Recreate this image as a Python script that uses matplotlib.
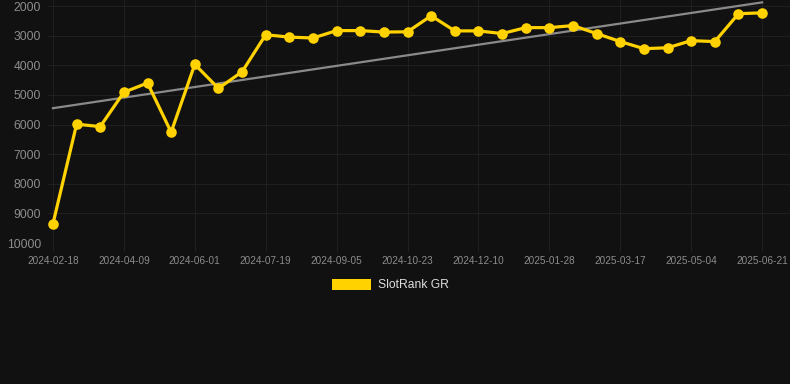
import numpy as np
import matplotlib
matplotlib.use('Agg')
import matplotlib.pyplot as plt
from matplotlib.patches import Patch

# rank values, one per sample (every ~16 days)
ranks = [9350, 5990, 6070, 4910, 4600, 6260, 3970, 4780, 4220, 2970,
         3050, 3080, 2830, 2830, 2880, 2870, 2330, 2840, 2840, 2930,
         2730, 2730, 2660, 2930, 3200, 3440, 3410, 3170, 3200, 2260, 2230]
tick_labels = ['2024-02-18', '2024-04-09', '2024-06-01', '2024-07-19',
               '2024-09-05', '2024-10-23', '2024-12-10', '2025-01-28',
               '2025-03-17', '2025-05-04', '2025-06-21']
y_ticks = [2000, 3000, 4000, 5000, 6000, 7000, 8000, 9000, 10000]
series_name = 'SlotRank GR'

plt.rcParams['font.family'] = ['Liberation Sans', 'DejaVu Sans']

bg = '#111111'
fig = plt.figure(figsize=(7.9, 3.84), dpi=100, facecolor=bg)
# axes box in pixels: left 48, right 790, top 0, bottom 243
ax = fig.add_axes([48 / 790, 1 - 243 / 384, 742 / 790, 243 / 384])
ax.set_facecolor(bg)

x = np.arange(len(ranks))
# linear trend over the sample index
k, b = np.polyfit(x, ranks, 1)
ax.plot(x, k * x + b, color='#8a8a8a', lw=1.6, zorder=2)
ax.plot(x, ranks, color='#ffd200', lw=2.3, marker='o', ms=7.6,
        markeredgewidth=0, zorder=3)

ax.set_xlim(-0.21, 31.18)
ax.set_ylim(10000, 1797)
ax.set_yticks(y_ticks)
ax.set_yticklabels([str(v) for v in y_ticks])
ax.set_xticks(x[::3])
ax.set_xticklabels(tick_labels)

ax.grid(True, color='#1f1f1f', lw=0.8)
ax.set_axisbelow(True)
for s in ax.spines.values():
    s.set_visible(False)
ax.tick_params(axis='y', length=0, pad=5, labelsize=8.7, labelcolor='#8c8c8c')
ax.tick_params(axis='x', length=6, width=0.8, color='#222222', pad=3,
               labelsize=7.2, labelcolor='#8c8c8c')

leg = fig.legend(handles=[Patch(facecolor='#ffd200', edgecolor='none', label=series_name)],
                 loc='center', bbox_to_anchor=(390 / 790, 1 - 285 / 384),
                 frameon=False, fontsize=8.7, handlelength=3.3, handleheight=1.0,
                 handletextpad=0.5, borderaxespad=0)
for t in leg.get_texts():
    t.set_color('#dddddd')

fig.savefig('out.png', dpi=100, facecolor=bg)
